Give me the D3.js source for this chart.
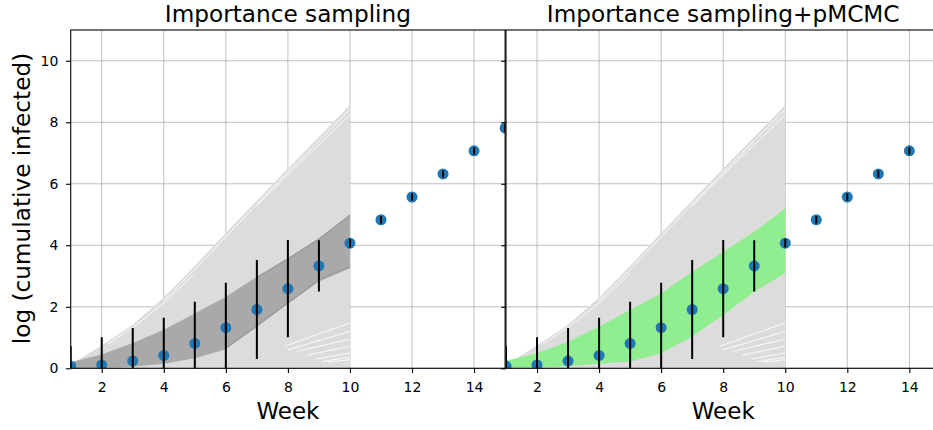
<!DOCTYPE html>
<html>
<head>
<meta charset="utf-8">
<script src="https://cdn.jsdelivr.net/npm/d3@7"></script>
<style>
  body { margin: 0; background: #fff; }
  svg { display: block; }
  text { font-family: "DejaVu Sans", sans-serif; fill: #000; }
</style>
</head>
<body>
<svg id="chart" width="933" height="430"></svg>
<script>
// Observed weekly log cumulative infections with symmetric uncertainty
const weeks = [1, 2, 3, 4, 5, 6, 7, 8, 9, 10, 11, 12, 13, 14, 15];
const observed = [0.07, 0.11, 0.24, 0.42, 0.81, 1.32, 1.91, 2.59, 3.33, 4.07, 4.83, 5.57, 6.32, 7.07, 7.81];
const observedErr = [0.65, 0.9, 1.07, 1.22, 1.35, 1.46, 1.61, 1.58, 0.83, 0.14, 0.12, 0.12, 0.12, 0.12, 0.12];

// Simulated weeks and envelope of the prior trajectories
const simWeeks = [1, 2, 3, 4, 5, 6, 7, 8, 9, 10];
const priorUpper = [0.12, 0.74, 1.42, 2.3, 3.33, 4.4, 5.45, 6.5, 7.52, 8.55];
const priorLower = [0, 0, 0, 0, 0, 0, 0, 0, 0, 0];

// Gaps between individual prior trajectories (pairs of [week, value])
const priorGaps = [
  [[4, 2.2], [5, 3.22], [6, 4.28], [7, 5.33], [8, 6.38], [9, 7.4], [10, 8.42]],
  [[7, 5.28], [8, 6.3], [9, 7.27], [10, 8.24]],
  [[2.2, 0.8], [3, 1.33], [4, 2.12], [5, 3.08]],
  [[7.9, 0.72], [10, 1.48]],
  [[8.0, 0.6], [10, 1.2]],
  [[8.3, 0.55], [10, 0.95]],
  [[8.6, 0.42], [10, 0.72]],
  [[8.9, 0.3], [10, 0.5]],
  [[9.1, 0.22], [10, 0.36]],
  [[9.3, 0.2], [10, 0.28]]
];

// Importance-sampling posterior band
const isUpper = [0.2, 0.45, 0.82, 1.25, 1.78, 2.33, 2.98, 3.58, 4.23, 5.0];
const isLower = [0.0, 0.02, 0.05, 0.15, 0.33, 0.62, 1.35, 2.1, 2.82, 3.25];
const isEdgeTop = [[7, 2.95], [8, 3.56], [9, 4.2], [10, 4.98]];
const isEdgeBottom = [[6, 0.66], [7, 1.38], [8, 2.12], [9, 2.88], [10, 3.3]];

// Importance sampling + pMCMC posterior band
const mcmcUpper = [0.25, 0.49, 0.86, 1.35, 1.9, 2.43, 3.14, 3.79, 4.44, 5.2];
const mcmcLower = [0.0, 0.03, 0.07, 0.15, 0.22, 0.49, 1.03, 1.73, 2.49, 3.09];

const xTicks = [2, 4, 6, 8, 10, 12, 14];
const yTicks = [0, 2, 4, 6, 8, 10];
const titles = ["Importance sampling", "Importance sampling+pMCMC"];

const svg = d3.select("#chart");
const plotTop = 30, plotBottom = 368.3, panelW = 434.4;
const panelX0 = [70.7, 506];
const y = d3.scaleLinear().domain([0, 11]).range([plotBottom, plotTop]);

const panels = [
  { title: titles[0], upper: isUpper, lower: isLower, fill: "#a9a9a9", edges: [isEdgeTop, isEdgeBottom], yLabels: true },
  { title: titles[1], upper: mcmcUpper, lower: mcmcLower, fill: "#90ee90", edges: [], yLabels: false }
];

panels.forEach((p, i) => {
  const x0 = panelX0[i];
  const x = d3.scaleLinear().domain([1, 15]).range([x0, x0 + panelW]);
  const g = svg.append("g");

  const clipId = "clip" + i;
  svg.append("clipPath").attr("id", clipId)
    .append("rect").attr("x", x0).attr("y", plotTop).attr("width", panelW).attr("height", plotBottom - plotTop);

  g.append("rect").attr("x", x0).attr("y", plotTop).attr("width", panelW).attr("height", plotBottom - plotTop).attr("fill", "#fff");

  const plot = g.append("g").attr("clip-path", `url(#${clipId})`);

  // grid
  plot.selectAll(".gx").data(xTicks).join("line")
    .attr("x1", d => x(d)).attr("x2", d => x(d)).attr("y1", plotTop).attr("y2", plotBottom)
    .attr("stroke", "#b0b0b0").attr("stroke-width", 0.8);
  plot.selectAll(".gy").data(yTicks).join("line")
    .attr("y1", d => y(d)).attr("y2", d => y(d)).attr("x1", x0).attr("x2", x0 + panelW)
    .attr("stroke", "#b0b0b0").attr("stroke-width", 0.8);

  // prior trajectories
  const area = (up, lo) => d3.area()
    .x((d, k) => x(simWeeks[k]))
    .y0((d, k) => y(lo[k]))
    .y1((d, k) => y(up[k]))(up);
  plot.append("path").attr("d", area(priorUpper, priorLower)).attr("fill", "#dcdcdc");

  const line = d3.line().x(d => x(d[0])).y(d => y(d[1]));
  plot.selectAll(".gap").data(priorGaps).join("path")
    .attr("d", line).attr("fill", "none").attr("stroke", "#fff")
    .attr("stroke-width", 1).attr("stroke-opacity", 0.85);

  // posterior band
  plot.append("path").attr("d", area(p.upper, p.lower)).attr("fill", p.fill);
  plot.selectAll(".edge").data(p.edges).join("path")
    .attr("d", line).attr("fill", "none").attr("stroke", "#9a9a9a").attr("stroke-width", 1.2);

  // observations
  plot.selectAll(".pt").data(weeks).join("circle")
    .attr("cx", d => x(d)).attr("cy", (d, k) => y(observed[k])).attr("r", 5.5)
    .attr("fill", "#1f77b4");
  plot.selectAll(".err").data(weeks).join("line")
    .attr("x1", d => x(d)).attr("x2", d => x(d))
    .attr("y1", (d, k) => y(observed[k] - observedErr[k]))
    .attr("y2", (d, k) => y(observed[k] + observedErr[k]))
    .attr("stroke", "#000").attr("stroke-width", 2);

  // axes
  const ax = g.append("g").attr("transform", `translate(0,${plotBottom})`)
    .call(d3.axisBottom(x).tickValues(xTicks).tickSize(4.8).tickPadding(8.6).tickFormat(d3.format("d")));
  ax.select(".domain").remove();
  ax.selectAll("text").style("font-size", "14px").style("font-family", "DejaVu Sans");
  ax.selectAll("line").attr("stroke-width", 1.1);

  const ay = g.append("g").attr("transform", `translate(${x0},0)`)
    .call(d3.axisLeft(y).tickValues(yTicks).tickSize(4.8).tickPadding(7.6).tickFormat(p.yLabels ? d3.format("d") : () => ""));
  ay.select(".domain").remove();
  ay.selectAll("text").style("font-size", "14px").style("font-family", "DejaVu Sans");
  ay.selectAll("line").attr("stroke-width", 1.1);

  // spines
  g.append("rect").attr("x", x0).attr("y", plotTop).attr("width", panelW).attr("height", plotBottom - plotTop)
    .attr("fill", "none").attr("stroke", "#000").attr("stroke-width", 1.1);

  // titles and labels
  g.append("text").attr("x", x0 + panelW / 2).attr("y", 22).attr("text-anchor", "middle")
    .style("font-size", "23.2px").text(p.title);
  g.append("text").attr("x", x0 + panelW / 2).attr("y", 418.5).attr("text-anchor", "middle")
    .style("font-size", "23px").text("Week");
});

svg.append("text").attr("transform", "translate(29.5,198.5) rotate(-90)").attr("text-anchor", "middle")
  .style("font-size", "23.2px").text("log (cumulative infected)");
</script>
</body>
</html>
